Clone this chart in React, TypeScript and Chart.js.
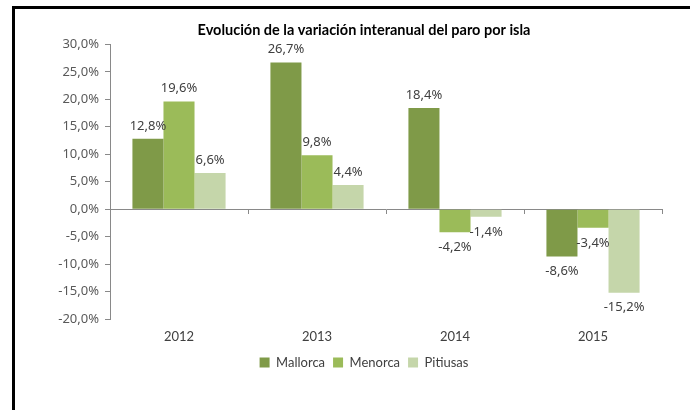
import React, { useEffect, useRef } from "react";
import { Chart, registerables } from "chart.js";

Chart.register(...registerables);

const title = "Evolución de la variación interanual del paro por isla";
const years = ["2012", "2013", "2014", "2015"];
const mallorca = [12.8, 26.7, 18.4, -8.6];
const menorca = [19.6, 9.8, -4.2, -3.4];
const pitiusas = [6.6, 4.4, -1.4, -15.2];
const seriesNames = ["Mallorca", "Menorca", "Pitiusas"];
const seriesColors = ["#7F9A48", "#9BBB59", "#C5D6AA"];

const fmt = (v: number) => v.toFixed(1).replace(".", ",") + "%";

const frame = {
  id: "frame",
  beforeDraw(chart: any) {
    const ctx = chart.ctx;
    ctx.save();
    ctx.fillStyle = "#ffffff";
    ctx.fillRect(0, 0, chart.width, chart.height);
    ctx.fillStyle = "#000000";
    ctx.fillRect(12, 6, chart.width - 12, 3);
    ctx.fillRect(12, 6, 3, chart.height - 6);
    ctx.restore();
  },
};

const valueLabels = {
  id: "valueLabels",
  afterDatasetsDraw(chart: any) {
    const ctx = chart.ctx;
    ctx.save();
    ctx.font = "13px 'Noto Sans'";
    ctx.fillStyle = "#404040";
    ctx.textAlign = "center";
    ctx.textBaseline = "middle";
    chart.data.datasets.forEach((ds: any, i: number) => {
      const meta = chart.getDatasetMeta(i);
      meta.data.forEach((bar: any, j: number) => {
        const v = ds.data[j];
        const y = v >= 0 ? bar.y - 13 : bar.y + 15;
        ctx.fillText(fmt(v), bar.x, y);
      });
    });
    ctx.restore();
  },
};

const noClip = (scale: any) => {
  scale._computeLabelArea = () => undefined;
};

export default function App() {
  const ref = useRef<HTMLCanvasElement>(null);
  useEffect(() => {
    if (!ref.current) return;
    const data = [mallorca, menorca, pitiusas];
    const chart = new Chart(ref.current, {
      type: "bar",
      data: {
        labels: years,
        datasets: seriesNames.map((n, i) => ({
          label: n,
          data: data[i],
          backgroundColor: seriesColors[i],
          borderWidth: 0,
          categoryPercentage: 0.675,
          barPercentage: 1,
          xAxisID: "x",
        })),
      },
      options: {
        responsive: false,
        animation: false,
        devicePixelRatio: 1,
        layout: { padding: { left: 66, right: 28, top: 10, bottom: 31 } },
        plugins: {
          title: {
            display: true,
            text: title,
            color: "#000000",
            font: { family: "Lato", size: 14.5, weight: "bold" },
            padding: { top: 12, bottom: 5 },
          },
          legend: {
            position: "bottom",
            labels: {
              boxWidth: 10,
              boxHeight: 10,
              padding: 8,
              color: "#404040",
              font: { family: "Lato", size: 13 },
            },
          },
          tooltip: { enabled: false },
        },
        scales: {
          x: {
            position: "bottom",
            grid: { display: false, drawTicks: false },
            border: { display: false },
            ticks: {
              color: "#404040",
              font: { family: "Lato", size: 13 },
              padding: 10,
            },
            afterFit: (scale: any) => {
              noClip(scale);
              scale.height = 29;
            },
          },
          x2: {
            type: "category",
            labels: years,
            position: { y: 0 } as any,
            offset: true,
            grid: {
              display: true,
              drawOnChartArea: false,
              offset: true,
              tickLength: 4,
              color: "#898989",
            },
            border: { display: true, color: "#898989", width: 1 },
            ticks: { display: false },
          },
          y: {
            min: -20,
            max: 30,
            afterFit: (scale: any) => {
              noClip(scale);
              scale.width = 44;
            },
            grid: {
              display: true,
              drawOnChartArea: false,
              tickLength: 5,
              color: "#898989",
            },
            border: { display: true, color: "#898989", width: 1 },
            ticks: {
              stepSize: 5,
              color: "#595959",
              font: { family: "Noto Sans", size: 13 },
              padding: 6,
              callback: (v: any) => fmt(Number(v)),
            },
          },
        },
      },
      plugins: [frame, valueLabels],
    } as any);
    return () => chart.destroy();
  }, []);
  return (
    <div style={{ position: "fixed", left: 0, top: 0, width: 690, height: 410 }}>
      <canvas ref={ref} width={690} height={410} style={{ display: "block" }} />
    </div>
  );
}
